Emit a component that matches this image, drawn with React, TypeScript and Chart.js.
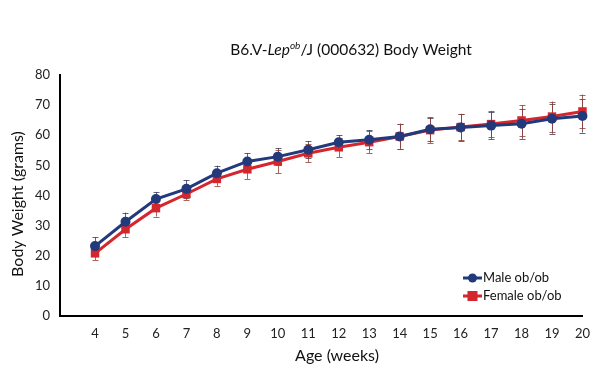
import React, { useEffect, useRef } from "react";
import { Chart, registerables } from "chart.js";

Chart.register(...registerables);

const weeks = [4, 5, 6, 7, 8, 9, 10, 11, 12, 13, 14, 15, 16, 17, 18, 19, 20];
const maleWeight = [23.2, 31.3, 38.8, 42.2, 47.4, 51.3, 52.9, 55.2, 57.7, 58.5, 59.6, 62.0, 62.6, 63.2, 63.8, 65.5, 66.4];
const femaleWeight = [20.8, 28.8, 35.8, 40.5, 45.5, 48.7, 51.3, 54.0, 56.0, 57.7, 59.6, 61.7, 62.7, 63.7, 64.9, 66.2, 67.9];
const maleErr = [3.0, 3.0, 2.4, 2.9, 2.5, 2.8, 2.8, 2.9, 2.3, 3.2, 4.0, 3.8, 4.5, 4.5, 5.0, 5.0, 5.5];
const femaleErr = [2.2, 2.7, 2.8, 2.0, 2.3, 3.2, 3.9, 3.0, 3.2, 3.6, 4.3, 4.3, 4.4, 4.4, 5.0, 5.0, 5.6];
const yTicks = [0, 10, 20, 30, 40, 50, 60, 70, 80];

const MALE = "#223a7c";
const FEMALE = "#d4262c";
const FONT = "Lato, 'Open Sans', sans-serif";

const errorBars = {
  id: "errorBars",
  beforeDatasetsDraw(chart: any) {
    const { ctx, scales } = chart;
    const errs = [maleErr, femaleErr];
    const cols = ["rgba(60,60,90,0.8)", "rgba(150,60,50,0.8)"];
    chart.data.datasets.forEach((ds: any, i: number) => {
      const meta = chart.getDatasetMeta(i);
      ctx.save();
      ctx.strokeStyle = cols[i];
      ctx.lineWidth = 1;
      meta.data.forEach((pt: any, j: number) => {
        const v = ds.data[j].y;
        const e = errs[i][j];
        const yT = scales.y.getPixelForValue(v + e);
        const yB = scales.y.getPixelForValue(v - e);
        const x = Math.round(pt.x) + 0.5;
        ctx.beginPath();
        ctx.moveTo(x, yT);
        ctx.lineTo(x, yB);
        ctx.moveTo(x - 3, Math.round(yT) + 0.5);
        ctx.lineTo(x + 3, Math.round(yT) + 0.5);
        ctx.moveTo(x - 3, Math.round(yB) + 0.5);
        ctx.lineTo(x + 3, Math.round(yB) + 0.5);
        ctx.stroke();
      });
      ctx.restore();
    });
  },
};

const titleAndLegend = {
  id: "titleAndLegend",
  afterDraw(chart: any) {
    const { ctx } = chart;
    ctx.save();
    ctx.fillStyle = "#111";
    ctx.textBaseline = "alphabetic";
    const size = 15.5;
    const parts = [
      { t: "B6.V-", f: `${size}px ${FONT}`, dy: 0 },
      { t: "Lep", f: `italic ${size}px ${FONT}`, dy: 0 },
      { t: "ob", f: `italic 10px ${FONT}`, dy: -6 },
      { t: "/J (000632) Body Weight", f: `${size}px ${FONT}`, dy: 0 },
    ];
    let total = 0;
    parts.forEach((p) => {
      ctx.font = p.f;
      total += ctx.measureText(p.t).width;
    });
    let x = 351 - total / 2;
    const base = 55;
    parts.forEach((p) => {
      ctx.font = p.f;
      ctx.fillText(p.t, x, base + p.dy);
      x += ctx.measureText(p.t).width;
    });

    // axis titles
    ctx.font = `16px ${FONT}`;
    ctx.fillStyle = "#111";
    ctx.textAlign = "center";
    ctx.textBaseline = "middle";
    ctx.fillText("Age (weeks)", 337, 356);
    ctx.save();
    ctx.translate(18, 204);
    ctx.rotate(-Math.PI / 2);
    ctx.fillText("Body Weight (grams)", 0, 0);
    ctx.restore();
    ctx.textAlign = "left";

    const items = [
      { label: "Male ob/ob", color: MALE, y: 278, shape: "circle" },
      { label: "Female ob/ob", color: FEMALE, y: 296, shape: "square" },
    ];
    items.forEach((it) => {
      ctx.strokeStyle = it.color;
      ctx.fillStyle = it.color;
      ctx.lineWidth = 3;
      ctx.beginPath();
      ctx.moveTo(463, it.y);
      ctx.lineTo(482, it.y);
      ctx.stroke();
      if (it.shape === "circle") {
        ctx.beginPath();
        ctx.arc(472.5, it.y, 4.5, 0, Math.PI * 2);
        ctx.fill();
      } else {
        ctx.fillRect(467.5, it.y - 5, 10, 10);
      }
      ctx.fillStyle = "#111";
      ctx.font = `13px ${FONT}`;
      ctx.textBaseline = "middle";
      ctx.fillText(it.label, 483, it.y);
    });
    ctx.restore();
  },
};

export default function App() {
  const ref = useRef<HTMLCanvasElement>(null);
  useEffect(() => {
    document.body.style.margin = "0";
    const chart = new Chart(ref.current!, {
      type: "line",
      data: {
        datasets: [
          {
            label: "Male ob/ob",
            data: weeks.map((w, i) => ({ x: w, y: maleWeight[i] })),
            borderColor: MALE,
            backgroundColor: MALE,
            borderWidth: 3,
            pointStyle: "circle",
            pointRadius: 5,
            pointBorderWidth: 0,
            clip: false as any,
          },
          {
            label: "Female ob/ob",
            data: weeks.map((w, i) => ({ x: w, y: femaleWeight[i] })),
            borderColor: FEMALE,
            backgroundColor: FEMALE,
            borderWidth: 3,
            pointStyle: "rect",
            pointRadius: 6,
            pointBorderWidth: 0,
            clip: false as any,
          },
        ],
      },
      options: {
        responsive: false,
        animation: false,
        layout: { padding: { top: 75, right: 17, left: 0, bottom: 0 } },
        plugins: { legend: { display: false }, tooltip: { enabled: false }, title: { display: false } },
        scales: {
          x: {
            type: "linear",
            min: 2.85,
            max: 20,
            afterFit: (s: any) => {
              s.height = 61;
            },
            afterBuildTicks: (s: any) => {
              s.ticks = weeks.map((v) => ({ value: v }));
            },
            grid: { display: false, drawTicks: false },
            border: { display: true, color: "#000", width: 2 },
            ticks: {
              padding: 10,
              autoSkip: false,
              maxRotation: 0,
              color: "#222",
              font: { family: FONT, size: 13 },
              callback: (v: any) => String(v),
            },
            title: { display: false },
          },
          y: {
            min: 0,
            max: 80,
            afterFit: (s: any) => {
              s.width = 60;
            },
            afterBuildTicks: (s: any) => {
              s.ticks = yTicks.map((v) => ({ value: v }));
            },
            grid: { display: false, drawTicks: false },
            border: { display: true, color: "#000", width: 2 },
            ticks: {
              padding: 10,
              color: "#222",
              font: { family: FONT, size: 13 },
            },
            title: { display: false },
          },
        },
      },
      plugins: [errorBars, titleAndLegend],
    });
    return () => chart.destroy();
  }, []);
  return (
    <div style={{ width: 600, height: 377 }}>
      <canvas ref={ref} width={600} height={377} />
    </div>
  );
}
